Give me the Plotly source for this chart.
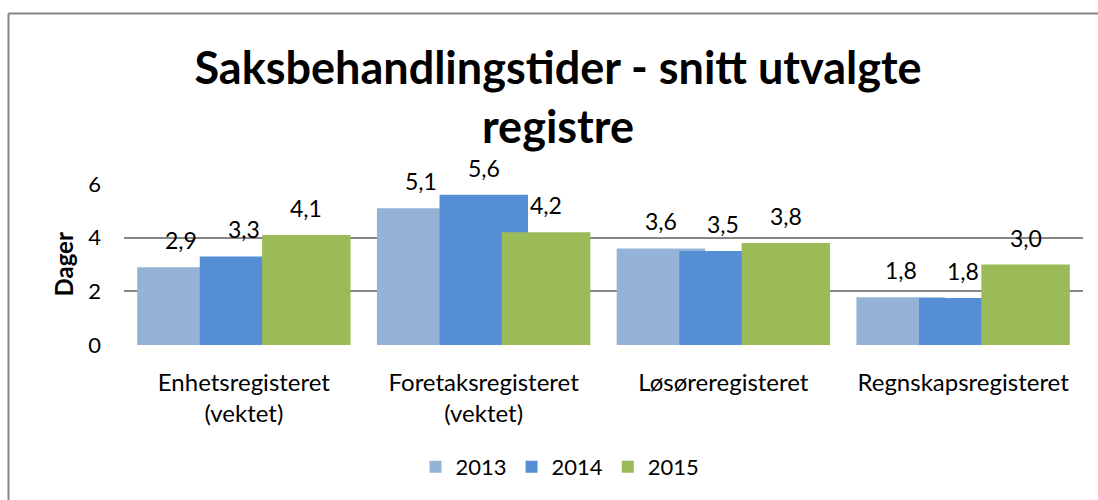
import plotly.graph_objects as go

categories = ["Enhetsregisteret<br>(vektet)", "Foretaksregisteret<br>(vektet)", "Løsøreregisteret", "Regnskapsregisteret"]
years = ["2013", "2014", "2015"]
v2013 = [2.9, 5.1, 3.6, 1.78]
v2014 = [3.3, 5.6, 3.5, 1.75]
v2015 = [4.1, 4.2, 3.8, 3.0]
series = [v2013, v2014, v2015]
colors = ["#95B3D7", "#558ED5", "#9BBB59"]

# overlapping bar layout (style)
bar_w = 0.369
offsets = [-0.445, -0.184, 0.076]

FONT = "Lato"
W, H = 1098, 500
PL, PR, PT, PB = 124, 1083, 184, 345
L, R, T, B = PL, W - PR, PT, H - PB
pw, ph = W - L - R, H - T - B

def px_x(p):
    return (p - L) / pw

def px_y(p):
    return (H - B - p) / ph

xs = list(range(len(categories)))
fig = go.Figure()
annotations = []
for name, vals, col, off in zip(years, series, colors, offsets):
    fig.add_trace(go.Bar(
        x=xs, y=vals, name=name, marker=dict(color=col, line=dict(width=0)),
        width=bar_w, offset=off, hoverinfo="skip",
    ))
    for xi, v in zip(xs, vals):
        annotations.append(dict(
            x=xi + off + bar_w / 2, y=v, xref="x", yref="y",
            text=f"{v:.1f}".replace(".", ","), showarrow=False,
            yanchor="bottom", yshift=11,
            font=dict(family=FONT, size=23, color="#000000"),
        ))

annotations.append(dict(
    x=px_x(63), y=0.5, xref="paper", yref="paper", text="<b>Dager</b>",
    textangle=-90, showarrow=False, xanchor="center", yanchor="middle",
    font=dict(family=FONT, size=24, color="#000000"),
))

fig.update_layout(
    width=W, height=H,
    margin=dict(l=L, r=R, t=T, b=B),
    paper_bgcolor="white", plot_bgcolor="white",
    barmode="overlay",
    title=dict(
        text="<b>Saksbehandlingstider - snitt utvalgte<br>registre</b>",
        x=558 / W, xanchor="center", xref="container",
        y=1 - 84 / H, yanchor="middle", yref="container",
        font=dict(family=FONT, size=45, color="#000000"),
    ),
    xaxis=dict(
        range=[-0.5, 3.5], tickmode="array", tickvals=xs, ticktext=categories,
        showgrid=False, showline=False, zeroline=False, ticks="",
        tickfont=dict(family=FONT, size=24, color="#000000"),
        ticklabelstandoff=21,
    ),
    yaxis=dict(
        range=[0, 6], tickvals=[0, 2, 4, 6], ticktext=["0", "2", "4", "6"],
        showgrid=True, gridcolor="#868686", gridwidth=2,
        zeroline=False, showline=False, ticks="",
        tickfont=dict(family=FONT, size=22, color="#000000"),
        ticklabelstandoff=22,
    ),
    legend=dict(
        orientation="h", x=px_x(560), xanchor="center", y=px_y(467), yanchor="middle",
        font=dict(family=FONT, size=22, color="#000000"),
        itemwidth=30, traceorder="normal",
    ),
    annotations=annotations,
    shapes=[
        dict(type="line", xref="paper", yref="paper", x0=px_x(8.5), x1=px_x(8.5),
             y0=px_y(13.5), y1=px_y(520), line=dict(color="#868686", width=2)),
        dict(type="line", xref="paper", yref="paper", x0=px_x(8.5), x1=px_x(1120),
             y0=px_y(13.5), y1=px_y(13.5), line=dict(color="#868686", width=2)),
    ],
    showlegend=True,
)

fig.write_html(
    "out.html",
    config={"displayModeBar": False},
    post_script="document.body.style.margin='0';document.body.style.overflow='hidden';",
)
